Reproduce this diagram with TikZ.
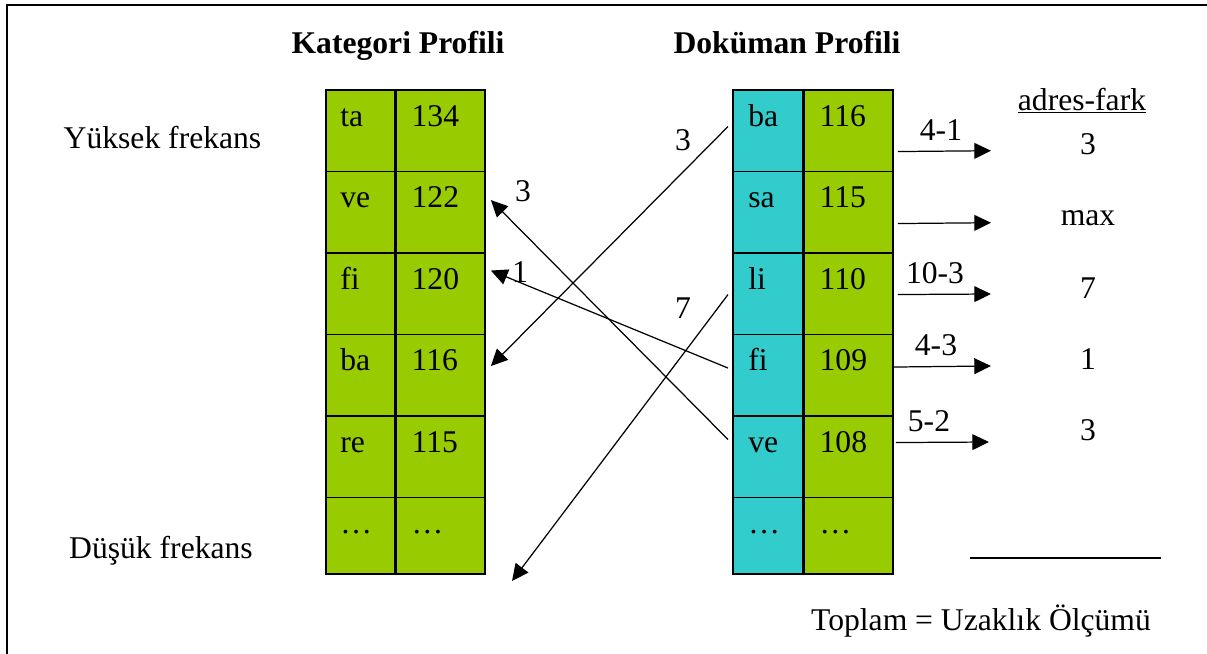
\documentclass[tikz,border=0pt]{standalone}
\usepackage{fontspec}
\setmainfont{Liberation Serif}
\usetikzlibrary{arrows.meta, calc}

\definecolor{kgreen}{HTML}{99CC00}
\definecolor{dcyan}{HTML}{33CCCC}

\begin{document}
\begin{tikzpicture}
  [x=0.02cm, y=-0.02cm,
   cell/.style={draw, line width=0.9pt, anchor=north west, inner sep=0pt,
     minimum height=#1*0.02cm},
   txt/.style={anchor=base west, inner sep=0pt},
   lbl/.style={anchor=base, inner sep=0pt},
   arr/.style={line width=0.7pt, -{Triangle[length=9.5pt, width=9pt]}}]
  \fontsize{18}{21.6}\selectfont
  \useasboundingbox (0,0) rectangle (1207,653);
  \clip (0,0) rectangle (1207,653);
  % frame
  \draw[line width=0.8pt] (7,5) rectangle (1240,700);
  % headings and side labels
  \node[lbl, font=\bfseries] (khead) at (398,53.5) {Kategori Profili};
  \node[lbl, font=\bfseries] (dhead) at (787,53.5) {Doküman Profili};
  \node[lbl] (high) at (162.5,148) {Yüksek frekans};
  \node[lbl] (low) at (161,558) {Düşük frekans};
  % Kategori Profili
  \foreach \w/\n/\h [count=\i] in {ta/134/81.5, ve/122/81.5, fi/120/81.5,
      ba/116/81.5, re/115/81.5, …/…/76.5} {
    \node[cell=\h, minimum width=68.7*0.02cm, fill=kgreen] (kw\i) at (325,{89+81.5*(\i-1)}) {};
    \node[cell=\h, minimum width=89*0.02cm, fill=kgreen] (kn\i) at (kw\i.north east) {};
    \node[txt] (kwt\i) at ([shift={(15,37)}]kw\i.north west) {\w};
    \node[txt] (knt\i) at ([shift={(16,37)}]kn\i.north west) {\n};
  }
  % Doküman Profili
  \foreach \w/\n/\h [count=\i] in {ba/116/81.5, sa/115/81.5, li/110/81.5,
      fi/109/81.5, ve/108/81.5, …/…/76.5} {
    \node[cell=\h, minimum width=69.7*0.02cm, fill=dcyan] (dw\i) at (732,{89+81.5*(\i-1)}) {};
    \node[cell=\h, minimum width=89*0.02cm, fill=kgreen] (dn\i) at (dw\i.north east) {};
    \node[txt] (dwt\i) at ([shift={(16,37)}]dw\i.north west) {\w};
    \node[txt] (dnt\i) at ([shift={(16,37)}]dn\i.north west) {\n};
  }
  % matches between the profiles
  \coordinate (lost) at (512,581);
  \draw[arr] ([shift={(-4,-4)}]dw1.west) -- ([shift={(5,-9)}]kn4.east);
  \draw[arr] ([shift={(-4,-17)}]dw5.west) -- ([shift={(5,-12)}]kn2.east);
  \draw[arr] ([shift={(-4,-7)}]dw4.west) -- ([shift={(5,-23)}]kn3.east);
  \draw[arr] ([shift={(-4,1)}]dw3.west) -- (lost);
  \node[lbl] (m1) at (683,150) {3};
  \node[lbl] (m3) at (683,318) {7};
  \node[lbl] (m5) at (523,201.7) {3};
  \node[lbl] (m4) at (520,282.7) {1};
  % adres-fark
  \node[lbl] (fark) at (1082,110) {\underline{adres-fark}};
  \foreach \i/\dx/\dy/\xe/\ye/\d/\xd/\v/\yv in {1/4/21/991/150.7/4-1/941/3/154,
      2/4/11.5/991/222.7//943/max/225,
      3/4/1/991/294/10-3/935/7/298,
      4/-2/-8/991/366/4-3/936/1/369,
      5/2/-14/989/442/5-2/929/3/440} {
    \coordinate (e\i) at (\xe,\ye);
    \draw[arr] ([shift={(\dx,\dy)}]dn\i.east) -- (e\i);
    \node[lbl] (d\i) at (\xd,\ye-10.5) {\d};
    \node[lbl] (v\i) at (1088,\yv) {\v};
  }
  % sum
  \draw[line width=0.8pt] (970,558) -- (1161,558);
  \node[lbl] (sum) at (981,630) {Toplam = Uzaklık Ölçümü};
\end{tikzpicture}
\end{document}
